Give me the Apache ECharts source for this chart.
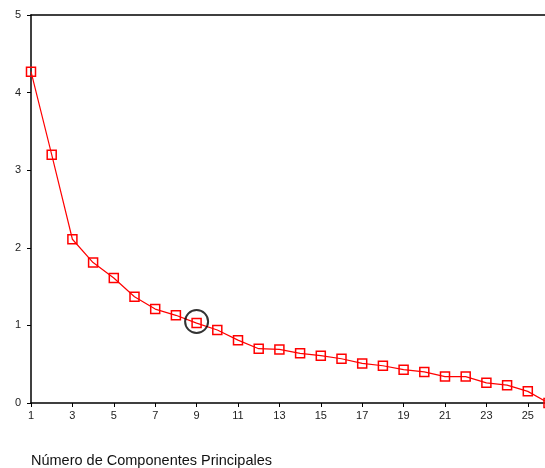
<!DOCTYPE html>
<html>
<head>
<meta charset="utf-8">
<script src="https://cdn.jsdelivr.net/npm/echarts@6/dist/echarts.min.js"></script>
<style>html,body{margin:0;padding:0;background:#fff;overflow:hidden;width:545px;height:468px;}#c{width:549px;height:468px;}</style>
</head>
<body>
<div id="c"></div>
<script>
const components = [1,2,3,4,5,6,7,8,9,10,11,12,13,14,15,16,17,18,19,20,21,22,23,24,25,26];
const eigenvalues = [4.27,3.20,2.11,1.81,1.61,1.37,1.21,1.13,1.03,0.94,0.81,0.70,0.69,0.64,0.61,0.57,0.51,0.48,0.43,0.40,0.34,0.34,0.26,0.23,0.15,0.00];
const highlight = [9, 1.05];
const yTicks = [0,1,2,3,4,5];
const xTitle = 'Número de Componentes Principales';

const chart = echarts.init(document.getElementById('c'));
const font = 'Liberation Sans, Arial, sans-serif';
chart.setOption({
  animation: false,
  title: { text: xTitle, left: 31, top: 453, padding: 0, textStyle: { fontFamily: font, fontSize: 14.5, fontWeight: 'normal', color: '#111' } },
  grid: { left: 31, top: 15, right: 0.5, bottom: 65, containLabel: false },
  xAxis: [{
    type: 'value', min: 1, max: 26, interval: 2,
    axisLine: { lineStyle: { color: '#000', width: 1.5 } },
    axisTick: { show: true, length: 4, lineStyle: { color: '#000' } },
    axisLabel: { showMaxLabel: false, margin: 7, fontFamily: font, fontSize: 11, color: '#222' },
    splitLine: { show: false }
  }, {
    type: 'value', position: 'top', min: 1, max: 26,
    axisLine: { show: true, lineStyle: { color: '#000', width: 1.5 } },
    axisTick: { show: false }, axisLabel: { show: false }, splitLine: { show: false }
  }],
  yAxis: {
    type: 'value', min: yTicks[0], max: yTicks[yTicks.length-1], interval: 1,
    axisLine: { show: true, lineStyle: { color: '#000', width: 1.5 } },
    axisTick: { show: true, length: 4, lineStyle: { color: '#000' } },
    axisLabel: { margin: 10, fontFamily: font, fontSize: 11, color: '#222' },
    splitLine: { show: false }
  },
  series: [{
    type: 'line',
    data: components.map((c, i) => [c, eigenvalues[i]]),
    symbol: 'rect', symbolSize: 9, showAllSymbol: true,
    lineStyle: { color: '#ff0000', width: 1.2 },
    itemStyle: { color: 'rgba(255,255,255,0)', borderColor: '#ff0000', borderWidth: 1.5 },
    clip: true
  }, {
    type: 'scatter',
    data: [highlight],
    symbol: 'circle', symbolSize: 23,
    itemStyle: { color: 'rgba(0,0,0,0)', borderColor: '#000', borderWidth: 2 },
    z: 5
  }]
});
</script>
</body>
</html>
